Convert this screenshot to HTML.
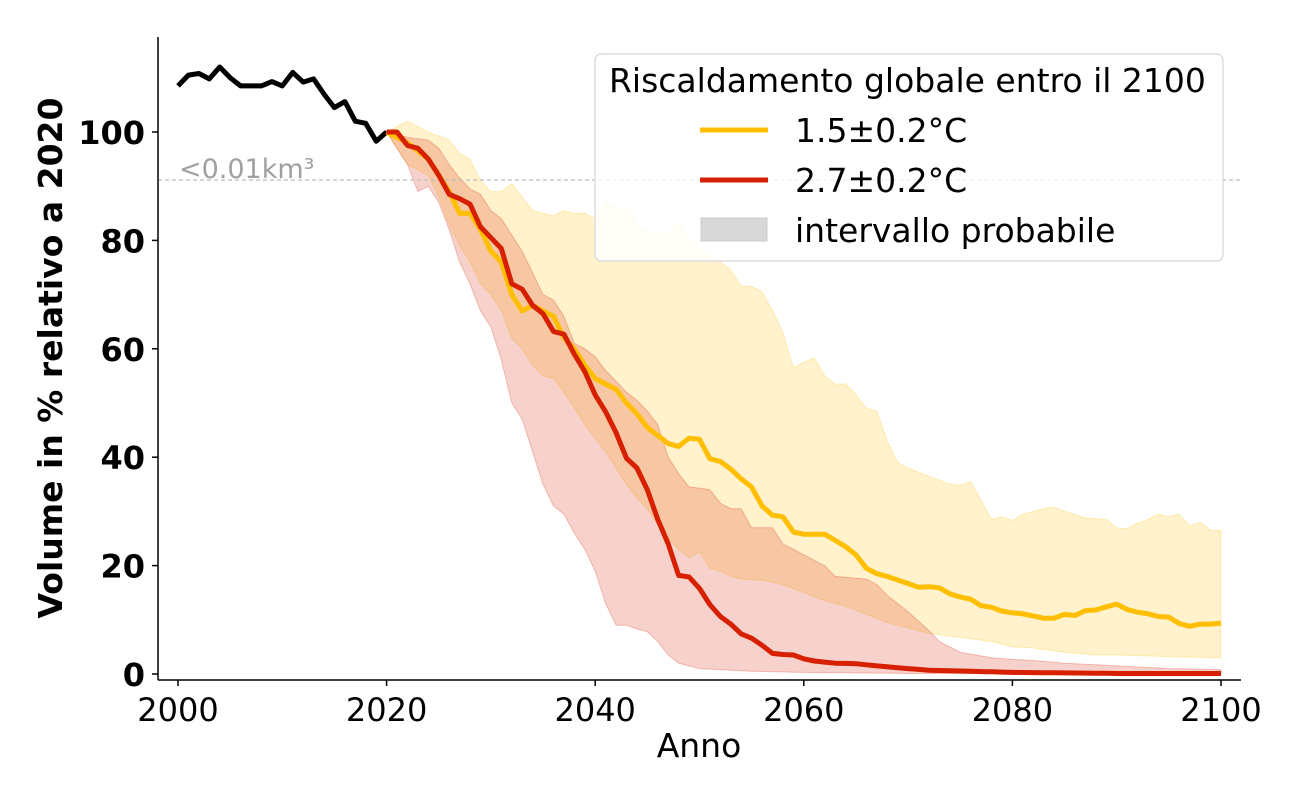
<!DOCTYPE html>
<html><head><meta charset="utf-8"><style>
body{margin:0;background:#fff;}
svg{display:block;font-family:"DejaVu Sans","Liberation Sans",sans-serif;}
</style></head><body>
<svg id="s" width="1300" height="800" xmlns="http://www.w3.org/2000/svg">
<g id="bands"></g>
<line x1="158" y1="180" x2="1241" y2="180" stroke="#bbb" stroke-width="1.2" stroke-dasharray="4,3"/>
<text x="179" y="178" font-size="27" fill="#a0a0a0">&lt;0.01km³</text>
<g id="lines"></g>
<line x1="158" y1="37" x2="158" y2="680" stroke="#000" stroke-width="1.5"/>
<line x1="158" y1="680" x2="1241" y2="680" stroke="#000" stroke-width="1.5"/>
<g id="ticks"></g>
<text x="699" y="757" font-size="33" text-anchor="middle">Anno</text>
<text transform="translate(62,358) rotate(-90)" font-size="33" font-weight="bold" text-anchor="middle">Volume in % relativo a 2020</text>
<rect x="595" y="54" width="628" height="207" rx="6" fill="#fff" fill-opacity="0.8" stroke="#ddd" stroke-width="1.5"/>
<text x="609" y="92" font-size="33">Riscaldamento globale entro il 2100</text>
<line x1="700" y1="130" x2="768" y2="130" stroke="#FFBF00" stroke-width="5"/>
<text x="795" y="142" font-size="33">1.5±0.2°C</text>
<line x1="700" y1="180" x2="768" y2="180" stroke="#D62000" stroke-width="5"/>
<text x="795" y="192" font-size="33">2.7±0.2°C</text>
<rect x="701" y="218" width="66" height="23" fill="#d8d8d8" stroke="#ccc"/>
<text x="795" y="242" font-size="33">intervallo probabile</text>
</svg>
<script>
const X=y=>178+10.43*(y-2000), Y=v=>674-5.42*v;
function interp(o){const k=Object.keys(o).map(Number).sort((a,b)=>a-b);const r=[];for(let y=k[0];y<=k[k.length-1];y++){let i=k.findIndex(z=>z>=y);if(k[i]===y)r.push([y,o[y]]);else{const a=k[i-1],b=k[i];r.push([y,o[a]+(o[b]-o[a])*(y-a)/(b-a)]);}}return r;}
const pts=a=>a.map(p=>X(p[0]).toFixed(1)+','+Y(p[1]).toFixed(1)).join(' ');
const black={2000:108.5,2001:110.5,2002:110.8,2003:109.8,2004:112,2005:110,2006:108.5,2007:108.5,2008:108.5,2009:109.3,2010:108.5,2011:111,2012:109.2,2013:109.8,2014:107,2015:104.5,2016:105.6,2017:102,2018:101.6,2019:98.3,2020:100};
const yel={2020:100,2022:98,2024:95,2026:89,2027:85,2028:85,2029:82,2030:78,2031:76,2032:70,2033:67,2034:68,2035:67,2036:66,2037:62,2038:60,2039:57,2040:54.5,2041:53.5,2042:52.5,2043:50,2044:48,2045:45.5,2046:44,2047:42.5,2048:42,2049:43.5,2050:43.3,2051:39.7,2052:39.2,2053:37.8,2054:36,2055:34.5,2056:31,2057:29.3,2058:29,2059:26.2,2060:25.8,2062:25.8,2064:23.5,2065:22,2066:19.5,2067:18.5,2068:18,2070:16.7,2071:16,2072:16.1,2073:15.9,2074:14.8,2075:14.2,2076:13.8,2077:12.6,2078:12.3,2079:11.6,2080:11.3,2081:11.1,2082:10.7,2083:10.3,2084:10.3,2085:11,2086:10.8,2087:11.7,2088:11.8,2089:12.4,2090:12.9,2091:11.9,2092:11.4,2093:11.1,2094:10.6,2095:10.5,2096:9.3,2097:8.8,2098:9.2,2099:9.2,2100:9.4};
const red={2020:100,2021:100,2022:97.5,2023:97,2024:95,2025:92,2026:88.5,2027:87.7,2028:86.7,2029:82.5,2030:80.5,2031:78.5,2032:72,2033:71,2034:68,2035:66.5,2036:63.2,2037:62.7,2038:59,2039:55.8,2040:51.5,2041:48.4,2042:44.5,2043:39.8,2044:38,2045:34,2046:28.5,2047:24,2048:18.2,2049:17.9,2050:15.8,2051:12.8,2052:10.6,2053:9.2,2054:7.4,2055:6.6,2056:5.3,2057:3.8,2058:3.6,2059:3.5,2060:2.8,2061:2.4,2062:2.2,2063:2,2065:1.9,2067:1.5,2070:1,2072:0.7,2076:0.5,2080:0.3,2085:0.2,2090:0.1,2100:0.1};
const yu={2020:100,2022:102,2024:100,2026:98.5,2027:96,2028:95,2029:91,2030:89,2031:89,2032:90.5,2033:88,2034:85.5,2035:85,2036:84.5,2037:85.5,2038:85,2039:85,2040:84,2041:87,2042:86,2043:86,2044:83,2045:81.5,2046:81.5,2047:81,2048:83,2049:80,2050:78.5,2051:77,2052:76,2053:74.5,2054:71.5,2055:71.5,2056:70.5,2057:67,2058:63,2059:56.5,2060:57.5,2061:58.3,2062:55,2063:53.5,2064:53.5,2065:51.5,2066:49,2067:48.5,2068:43,2069:39,2070:38,2072:36.5,2074:35,2075:34.8,2076:35.5,2077:32,2078:28.5,2079:29,2080:28.3,2081:29.5,2083:30.5,2084:30.8,2085:30,2087:28.8,2089:28.5,2090:27,2091:26.8,2092:27.8,2093:28.5,2094:29.5,2095:29,2096:29.5,2097:27.3,2098:28,2099:26.5,2100:26.5};
const yl={2020:100,2022:94,2024:92,2025:88,2026:83,2027:79,2028:76,2029:72,2030:70,2031:67,2032:62,2033:60,2034:57,2035:55,2036:54.5,2037:52,2038:49,2039:46,2040:43.5,2041:41,2042:38,2043:35,2044:32.5,2045:30.5,2046:27.5,2047:25,2048:23,2049:21.5,2050:22.5,2051:19.5,2052:19,2053:18,2054:17.5,2056:17.3,2058:16.5,2060:15,2062:13.5,2064:12.5,2066:11,2068:9.5,2070:8.5,2072:7.5,2074:7,2076:6.5,2078:6,2080:5,2082:4.8,2085:4,2088:3.5,2090:3.5,2095:3.2,2100:3};
const ru={2020:100,2022:99,2024:98.5,2025:97,2026:94,2027:91.5,2028:89.5,2029:88.5,2030:85.5,2031:84,2032:81,2033:78,2034:74,2035:70,2036:69,2037:66,2038:61,2039:60,2040:58.5,2041:56,2042:54,2043:52,2044:50.5,2045:48.5,2046:46,2047:40,2048:37,2049:34.5,2050:34.3,2051:34,2052:31.5,2053:30.5,2054:30.5,2055:27,2057:27,2058:24,2060:22,2062:20,2063:18,2066:17.5,2067:16.5,2068:14.5,2070:11.5,2072:8,2073:6,2075:4,2078:3,2080:2.7,2082:2.5,2085:2,2090:1.5,2095:1,2100:0.8};
const rl={2020:100,2022:94,2023:89,2024:90,2025:87,2026:82,2027:76,2028:72,2029:67,2030:64,2031:58,2032:50,2033:47,2034:41,2035:35,2036:31,2037:29.5,2038:26,2039:23,2040:19,2041:13,2042:9,2043:9,2044:8.3,2045:7.8,2046:6,2047:3.5,2048:2,2049:1.5,2050:1,2052:0.8,2055:0.5,2060:0.3,2070:0.1,2100:0};
const NS='http://www.w3.org/2000/svg';
function el(p,t,a){const e=document.createElementNS(NS,t);for(const k in a)e.setAttribute(k,a[k]);document.getElementById(p).appendChild(e);return e;}
function band(u,l,c,o){el('bands','polygon',{points:pts(interp(u))+' '+pts(interp(l).reverse()),fill:c,'fill-opacity':o,stroke:c,'stroke-opacity':0.25});}
band(yu,yl,'#FFC000',0.2);band(ru,rl,'#D62000',0.2);
const L=(d,c)=>el('lines','polyline',{points:pts(interp(d)),fill:'none',stroke:c,'stroke-width':5,'stroke-linejoin':'round'});
L(black,'#000');L(yel,'#FFBF00');L(red,'#D62000');
for(let v=0;v<=100;v+=20){el('ticks','line',{x1:152,x2:158,y1:Y(v),y2:Y(v),stroke:'#000','stroke-width':1.5});const t=el('ticks','text',{x:145,y:Y(v)+12,'text-anchor':'end','font-weight':'bold','font-size':32});t.textContent=v;}
for(let y=2000;y<=2100;y+=20){el('ticks','line',{x1:X(y),x2:X(y),y1:680,y2:686,stroke:'#000','stroke-width':1.5});const t=el('ticks','text',{x:X(y),y:721,'text-anchor':'middle','font-size':32});t.textContent=y;}
</script>
</body></html>
